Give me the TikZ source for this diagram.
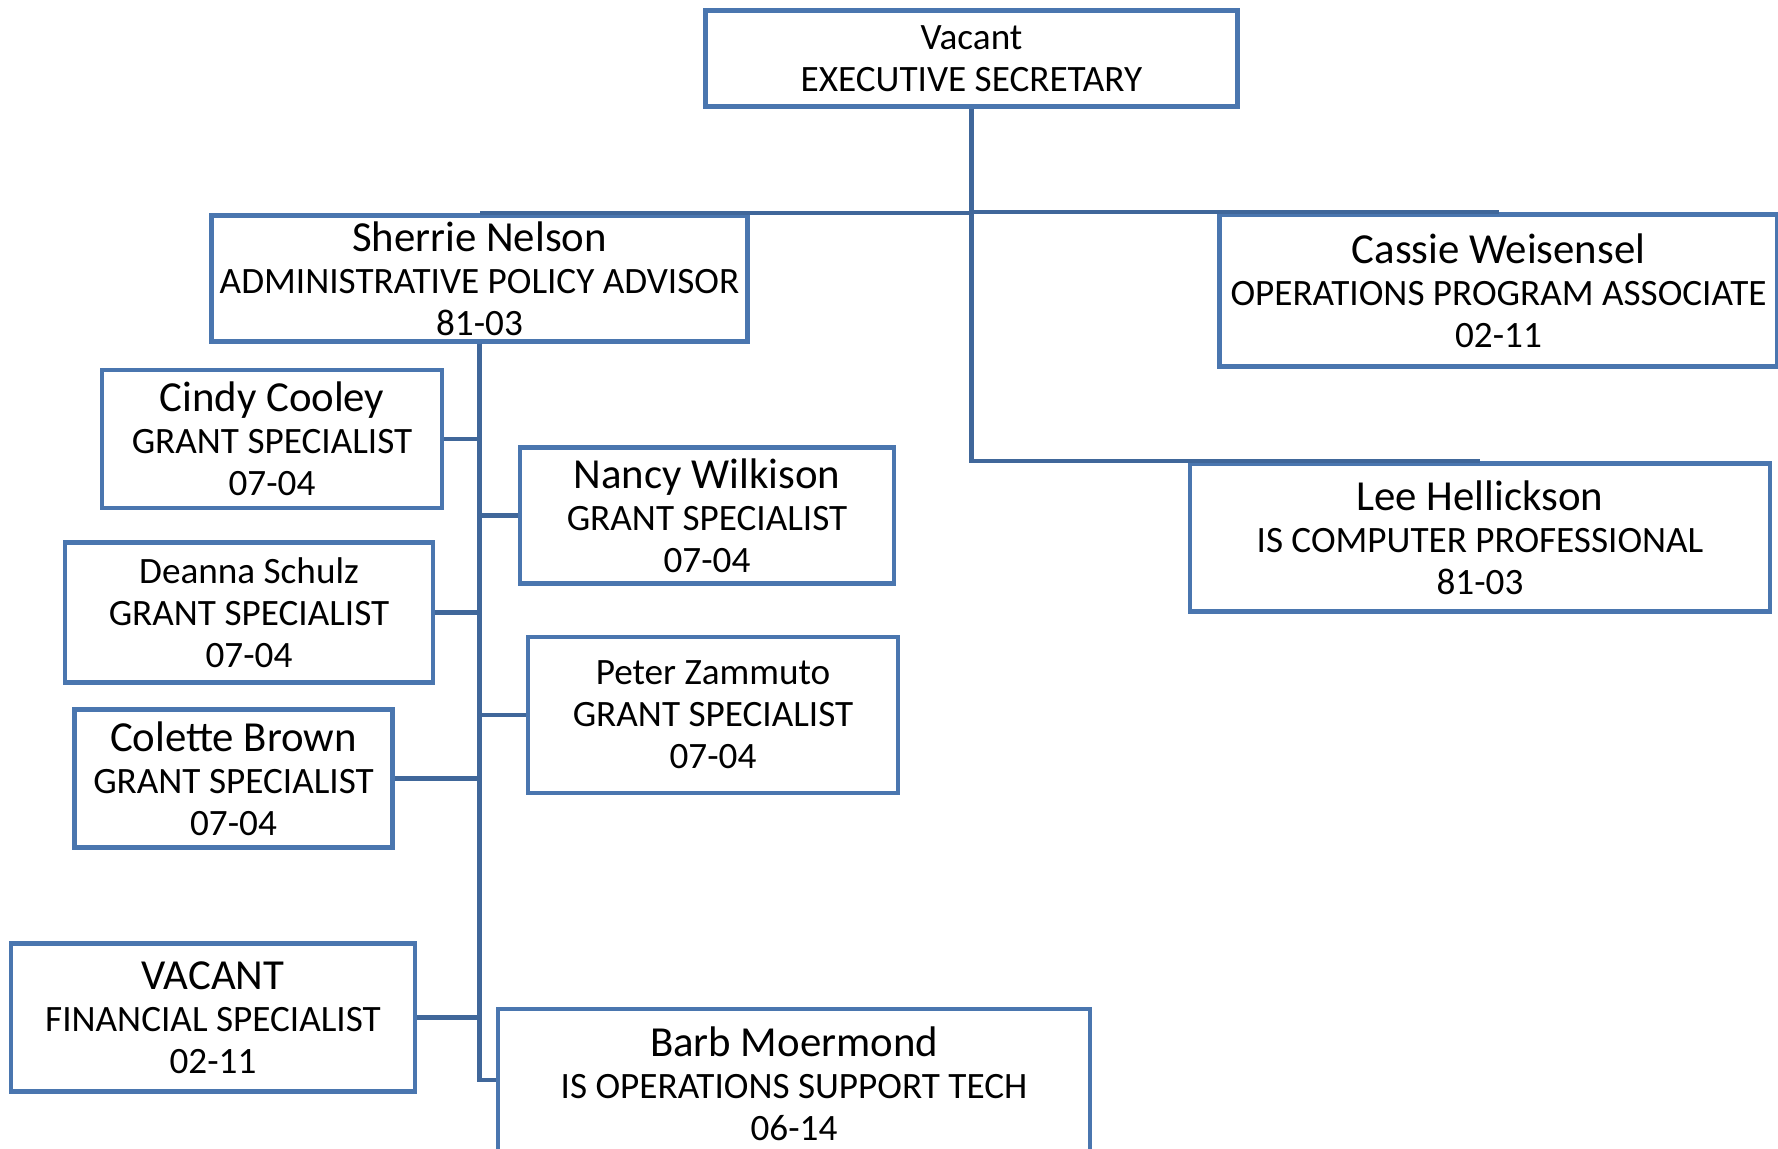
\documentclass[tikz,border=0pt]{standalone}
\usepackage{fontspec}
\setmainfont{Carlito}
\definecolor{boxblue}{RGB}{74,118,175}
\definecolor{linkblue}{RGB}{64,103,154}
\newcommand{\namefont}{\fontsize{21.4}{21}\selectfont}
\tikzset{
  post/.style={draw=boxblue, line width=2.2pt, fill=white, align=center, inner sep=0pt,
    font=\fontsize{18.6}{21}\selectfont},
  link/.style={draw=linkblue, line width=2.2pt}
}
\begin{document}
\begin{tikzpicture}[x=0.5pt,y=-0.5pt]
\useasboundingbox (0,0) rectangle (1778,1149);
% top level
\node[post, minimum width=266pt, minimum height=48pt] (exec) at (971.5,58.5) {Vacant\\EXECUTIVE SECRETARY};
% second level
\node[post, minimum width=268pt, minimum height=63pt] (sherrie) at (479.5,278.5) {{\namefont Sherrie Nelson}\\ADMINISTRATIVE POLICY ADVISOR\\81-03};
\node[post, minimum width=279pt, minimum height=76pt] (cassie) at (1498.5,290.5) {{\namefont Cassie Weisensel}\\OPERATIONS PROGRAM ASSOCIATE\\02-11};
\node[post, minimum width=290pt, minimum height=74pt] (lee) at (1480,537.5) {{\namefont Lee Hellickson}\\IS COMPUTER PROFESSIONAL\\81-03};
% staff under the advisor
\node[post, minimum width=170pt, minimum height=69pt] (cindy) at (272,439) {{\namefont Cindy Cooley}\\GRANT SPECIALIST\\07-04};
\node[post, minimum width=187pt, minimum height=68pt] (nancy) at (707,515.5) {{\namefont Nancy Wilkison}\\GRANT SPECIALIST\\07-04};
\node[post, minimum width=184pt, minimum height=70pt] (deanna) at (249,612.5) {Deanna Schulz\\GRANT SPECIALIST\\07-04};
\node[post, minimum width=185pt, minimum height=78pt] (peter) at (713,715) {Peter Zammuto\\GRANT SPECIALIST\\07-04};
\node[post, minimum width=159pt, minimum height=69pt] (colette) at (233.5,778.5) {{\namefont Colette Brown}\\GRANT SPECIALIST\\07-04};
\node[post, minimum width=202pt, minimum height=74pt] (vacant) at (213,1017.5) {{\namefont VACANT}\\FINANCIAL SPECIALIST\\02-11};
\node[post, minimum width=296pt, minimum height=75pt] (barb) at (794,1084) {{\namefont Barb Moermond}\\IS OPERATIONS SUPPORT TECH\\06-14};
% connectors
\draw[link] (exec.south) |- (sherrie.north);
\draw[link] (exec.south) |- (cassie.north);
\draw[link] (exec.south) |- (lee.north);
\draw[link] (sherrie.south) |- (cindy.east);
\draw[link] (sherrie.south) |- (nancy.west);
\draw[link] (sherrie.south) |- (deanna.east);
\draw[link] (sherrie.south) |- (peter.west);
\draw[link] (sherrie.south) |- (colette.east);
\draw[link] (sherrie.south) |- (vacant.east);
\draw[link] (sherrie.south) |- ([yshift=2pt]barb.west);
\end{tikzpicture}
\end{document}
